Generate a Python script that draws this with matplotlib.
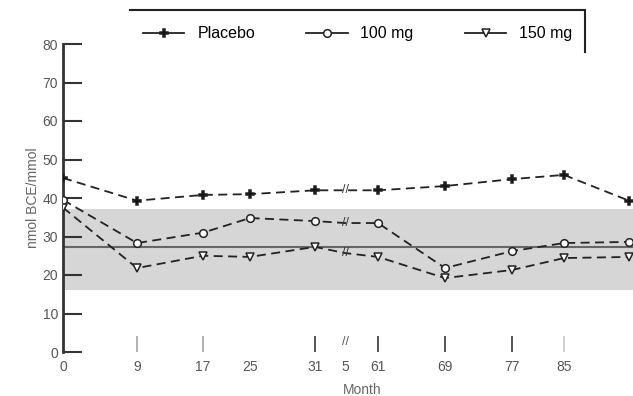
import numpy as np
import matplotlib
matplotlib.use("Agg")
import matplotlib.pyplot as plt
from matplotlib.lines import Line2D

plt.rcParams['font.family'] = ['Liberation Sans', 'DejaVu Sans']

# months shown on the axis (axis has a break after 31, and the last visit is unlabeled)
month_labels = ['0', '9', '17', '25', '31', '5', '61', '69', '77', '85', '']
# where each visit sits along the (non-linear) time axis
xpos = [0, 7.4, 14, 18.7, 25.2, 28.2, 31.5, 38.2, 44.9, 50.1, 56.6]
break_idx = 5

placebo = [45.2, 39.3, 40.8, 41.0, 42.0, 42.0, 42.0, 43.1, 44.9, 46.0, 39.3]
mg100 = [39.5, 28.3, 31.0, 34.8, 34.0, 33.5, 33.5, 21.8, 26.2, 28.3, 28.6]
mg150 = [37.5, 21.8, 25.0, 24.7, 27.3, 25.7, 24.7, 19.2, 21.3, 24.4, 24.7]

band_low, band_high = 16.1, 37.1
ref_line = 27.3

fig = plt.figure(figsize=(6.33, 3.96), dpi=100)
ax = fig.add_axes([63 / 633, 44 / 396, 570 / 633, 308 / 396])

ax.axhspan(band_low, band_high, color='#d6d6d6', zorder=0, lw=0)
ax.axhline(ref_line, color='#666666', lw=1.5, zorder=1)

marks = [i for i in range(len(xpos)) if i != break_idx]
series = [
    (placebo, 'P', 'black', 'Placebo'),
    (mg100, 'o', 'white', '100 mg'),
    (mg150, 'v', 'white', '150 mg'),
]
for vals, mk, fc, name in series:
    ax.plot(xpos, vals, color='#222222', lw=1.3, ls=(0, (5, 3)),
            marker=mk, ms=5.5, mfc=fc, mec='#222222', mew=1.1,
            markevery=marks, zorder=3)
    ax.text(xpos[break_idx], vals[break_idx], '//', ha='center', va='center',
            fontsize=9, color='#333333', zorder=4)

ax.set_xlim(0, 57)
ax.set_ylim(0, 80)
ax.set_yticks(np.arange(0, 81, 10))
ax.tick_params(axis='y', direction='in', length=14, width=1.5, colors='#333333',
               labelsize=10, labelcolor='#555555')
ax.set_xticks(xpos)
ax.set_xticklabels(month_labels, fontsize=10, color='#555555')
ax.tick_params(axis='x', length=0, pad=6)

# short tick marks standing above the (absent) x axis line
tick_idx = [1, 2, 4, 6, 7, 8, 9]
tick_col = ['#aaaaaa', '#aaaaaa', '#444444', '#444444', '#444444', '#444444', '#cccccc']
ax.vlines([xpos[i] for i in tick_idx], 0, 4.2, colors=tick_col, lw=1.3)
ax.text(xpos[break_idx], 2.5, '//', ha='center', va='center', fontsize=9, color='#555555')

for s in ['top', 'right', 'bottom']:
    ax.spines[s].set_visible(False)
ax.spines['left'].set_linewidth(2)
ax.spines['left'].set_color('#333333')

ax.set_ylabel('nmol BCE/mmol', fontsize=10, color='#666666', labelpad=2)
ax.set_xlabel('Month', fontsize=10, color='#666666', labelpad=0)
ax.xaxis.set_label_coords((345 - 63) / 570 + 0.03, -0.1)

handles = [Line2D([], [], color='#222222', lw=1.3, marker=mk, ms=5.5, mfc=fc,
                  mec='#222222', mew=1.1) for _, mk, fc, _ in series]
fig.legend(handles, [s[3] for s in series], ncol=3, frameon=False,
           loc='center', bbox_to_anchor=(0.565, 0.915), fontsize=11.5,
           handlelength=2.6, columnspacing=3.2, handletextpad=0.8)
fig.add_artist(Line2D([130 / 633, 585 / 633], [0.975, 0.975], color='#222222', lw=1.5))
fig.add_artist(Line2D([585 / 633, 585 / 633], [0.975, 0.868], color='#222222', lw=1.5))

fig.savefig('out.png', dpi=100)
